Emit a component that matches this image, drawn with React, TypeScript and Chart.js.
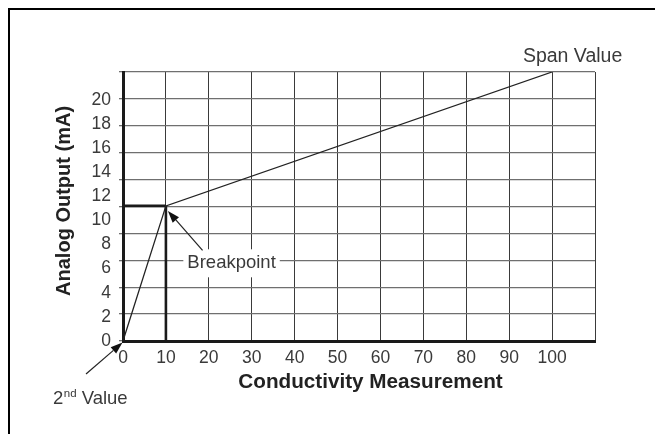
import React, { useEffect, useRef } from "react";
import { Chart, registerables } from "chart.js";

Chart.register(...registerables);

// ---- data ----
const conductivity = [0, 10, 100]; // 2nd value, breakpoint, span value (x)
const analogOutput = [0, 11.2, 22.3]; // mA (y)
const X_TICKS = [0, 10, 20, 30, 40, 50, 60, 70, 80, 90, 100, 110];
const X_LABELS = ["0", "10", "20", "30", "40", "50", "60", "70", "80", "90", "100", ""];
const Y_TICKS = [0, 2, 4, 6, 8, 10, 12, 14, 16, 18, 20];
const GRID_ROWS = [0, 1, 2, 3, 4, 5, 6, 7, 8, 9, 10];
const X_MAX = 110;
const Y_MAX = 22.3;

const FONT = '"Liberation Sans", Arial, Helvetica, sans-serif';
const TEXT = "#3a3a3a";

function arrow(ctx: CanvasRenderingContext2D, fx: number, fy: number, tx: number, ty: number) {
  const ang = Math.atan2(ty - fy, tx - fx);
  const len = 12;
  const half = 4.2;
  const bx = tx - Math.cos(ang) * len;
  const by = ty - Math.sin(ang) * len;
  ctx.beginPath();
  ctx.moveTo(fx, fy);
  ctx.lineTo(bx, by);
  ctx.strokeStyle = "#222";
  ctx.lineWidth = 1.2;
  ctx.stroke();
  ctx.beginPath();
  ctx.moveTo(tx, ty);
  ctx.lineTo(bx + Math.sin(ang) * half, by - Math.cos(ang) * half);
  ctx.lineTo(bx - Math.sin(ang) * half, by + Math.cos(ang) * half);
  ctx.closePath();
  ctx.fillStyle = "#111";
  ctx.fill();
}

const decorations = {
  id: "decorations",
  beforeDraw(chart: any) {
    const { ctx, width, height } = chart;
    ctx.save();
    ctx.fillStyle = "#ffffff";
    ctx.fillRect(0, 0, width, height);
    ctx.fillStyle = "#000000";
    ctx.fillRect(8, 8, 2, height);
    ctx.fillRect(8, 8, width, 2);
    ctx.restore();
  },
  afterDatasetsDraw(chart: any) {
    const { ctx } = chart;
    const xs = chart.scales.x;
    const ys = chart.scales.yL;
    const gs = chart.scales.y;
    ctx.save();
    ctx.fillStyle = TEXT;
    ctx.textBaseline = "alphabetic";

    // Span Value
    const sx = xs.getPixelForValue(conductivity[2]);
    const sy = ys.getPixelForValue(analogOutput[2]);
    ctx.textAlign = "center";
    ctx.font = `19.5px ${FONT}`;
    ctx.fillText("Span Value", sx + 20.5, sy - 10.5);

    // Breakpoint label on a grid row, with white gap
    ctx.font = `18.5px ${FONT}`;
    const lx = xs.getPixelForValue(25.3);
    const ly = gs.getPixelForValue(3);
    const w = ctx.measureText("Breakpoint").width;
    ctx.fillStyle = "#ffffff";
    ctx.fillRect(lx - w / 2 - 4, ly - 11, w + 8, 28);
    ctx.fillStyle = TEXT;
    ctx.fillText("Breakpoint", lx, ly + 7.5);
    const bx = xs.getPixelForValue(conductivity[1]);
    const by = ys.getPixelForValue(analogOutput[1]);
    arrow(ctx, lx - 29, ly - 10, bx + 2, by + 5);

    // 2nd Value
    const ox = xs.getPixelForValue(conductivity[0]);
    const oy = ys.getPixelForValue(analogOutput[0]);
    arrow(ctx, ox - 37, oy + 33, ox - 0.5, oy + 1.5);
    ctx.textAlign = "left";
    ctx.fillStyle = TEXT;
    let tx = ox - 70;
    const base = oy + 63;
    ctx.font = `18.5px ${FONT}`;
    ctx.fillText("2", tx, base);
    tx += ctx.measureText("2").width;
    ctx.font = `11.5px ${FONT}`;
    ctx.fillText("nd", tx + 0.5, base - 7);
    tx += ctx.measureText("nd").width + 0.5;
    ctx.font = `18.5px ${FONT}`;
    ctx.fillText(" Value", tx, base);
    ctx.restore();
  },
};

export default function App() {
  const ref = useRef<HTMLCanvasElement | null>(null);

  useEffect(() => {
    if (!ref.current) return;
    const curve = conductivity.map((x, i) => ({ x, y: analogOutput[i] }));
    const bpX = conductivity[1];
    const bpY = analogOutput[1];
    const chart = new Chart(ref.current, {
      type: "scatter",
      data: {
        datasets: [
          {
            data: curve,
            showLine: true,
            borderColor: "#222",
            borderWidth: 1.3,
            pointRadius: 0,
            xAxisID: "x",
            yAxisID: "yL",
          },
          {
            data: [
              { x: conductivity[0], y: bpY },
              { x: bpX, y: bpY },
            ],
            showLine: true,
            borderColor: "#1a1a1a",
            borderWidth: 2.6,
            pointRadius: 0,
            xAxisID: "x",
            yAxisID: "yL",
          },
          {
            data: [
              { x: bpX, y: analogOutput[0] },
              { x: bpX, y: bpY },
            ],
            showLine: true,
            borderColor: "#1a1a1a",
            borderWidth: 2.6,
            pointRadius: 0,
            xAxisID: "x",
            yAxisID: "yL",
          },
        ],
      },
      options: {
        animation: false,
        responsive: false,
        devicePixelRatio: 1,
        layout: { padding: { top: 72, right: 60, bottom: 33, left: 0 } },
        plugins: { legend: { display: false }, tooltip: { enabled: false } },
        scales: {
          x: {
            type: "linear",
            position: "bottom",
            min: 0,
            max: X_MAX,
            afterBuildTicks: (axis: any) => {
              axis.ticks = X_TICKS.map((v) => ({ value: v }));
            },
            afterFit: (axis: any) => {
              axis.height = 60;
            },
            ticks: {
              padding: 7,
              color: TEXT,
              font: { family: FONT, size: 17.5 },
              maxRotation: 0,
              autoSkip: false,
              callback: (_v: any, i: number) => X_LABELS[i],
            },
            grid: { color: "#3a3a3a", lineWidth: 1, drawTicks: false },
            border: { display: true, color: "#1a1a1a", width: 3 },
            title: {
              display: true,
              text: "    Conductivity Measurement",
              color: "#222",
              font: { family: FONT, size: 20.7, weight: "bold" },
              padding: { top: 0, bottom: 6 },
            },
          },
          y: {
            type: "linear",
            position: "left",
            weight: 0,
            min: 0,
            max: GRID_ROWS[GRID_ROWS.length - 1],
            afterBuildTicks: (axis: any) => {
              axis.ticks = GRID_ROWS.map((v) => ({ value: v }));
            },
            afterFit: (axis: any) => {
              axis.width = 0;
            },
            ticks: { display: false },
            grid: { color: "#6f6f6f", lineWidth: 1.3, drawTicks: true, tickLength: 4 },
            border: { display: true, color: "#1a1a1a", width: 3 },
          },
          yL: {
            type: "linear",
            position: "left",
            weight: 1,
            min: 0,
            max: Y_MAX,
            afterBuildTicks: (axis: any) => {
              axis.ticks = Y_TICKS.map((v) => ({ value: v }));
            },
            afterFit: (axis: any) => {
              axis.width = 123;
            },
            ticks: {
              padding: 12,
              color: TEXT,
              font: { family: FONT, size: 17.5 },
              autoSkip: false,
              callback: (v: any) => String(v),
            },
            grid: { display: false, drawTicks: false },
            border: { display: false },
            title: {
              display: true,
              text: "  Analog Output (mA)",
              color: "#222",
              font: { family: FONT, size: 20, weight: "bold" },
              padding: { top: 52, bottom: 0 },
            },
          },
        },
      },
      plugins: [decorations],
    } as any);
    return () => chart.destroy();
  }, []);

  return (
    <div style={{ position: "fixed", left: 0, top: 0, width: 655, height: 434, background: "#fff" }}>
      <canvas ref={ref} width={655} height={434} style={{ display: "block", width: 655, height: 434 }} />
    </div>
  );
}
